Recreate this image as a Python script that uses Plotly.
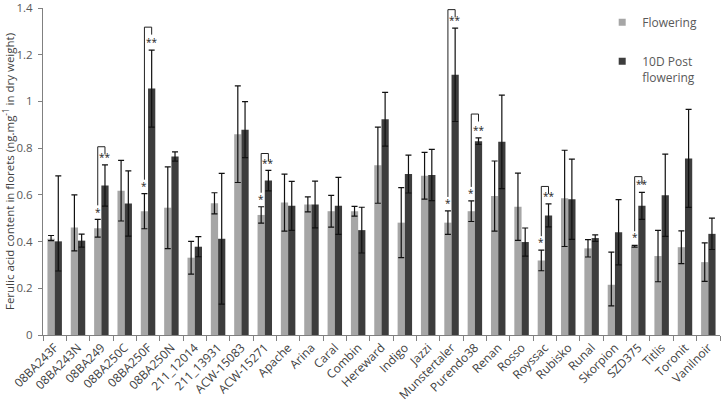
import plotly.graph_objects as go

cultivars = ["08BA243F", "08BA243N", "08BA249", "08BA250C", "08BA250F", "08BA250N",
             "211_12014", "211_13931", "ACW-15083", "ACW-15271", "Apache", "Arina",
             "Caral", "Combin", "Hereward", "Indigo", "Jazzi", "Munstertaler",
             "Purendo38", "Renan", "Rosso", "Royssac", "Rubisko", "Runal",
             "Skorpion", "SZD375", "Titlis", "Toronit", "Vanilnoir"]

flowering = [0.412, 0.460, 0.457, 0.618, 0.530, 0.545, 0.331, 0.564, 0.860, 0.514,
             0.567, 0.559, 0.530, 0.530, 0.727, 0.481, 0.682, 0.481, 0.530, 0.595,
             0.549, 0.319, 0.585, 0.371, 0.215, 0.380, 0.338, 0.376, 0.312]
flowering_err_up = [0.014, 0.14, 0.038, 0.13, 0.075, 0.175, 0.07, 0.045, 0.207, 0.035,
                    0.122, 0.032, 0.068, 0.021, 0.163, 0.15, 0.10, 0.05, 0.044, 0.15,
                    0.144, 0.044, 0.206, 0.037, 0.14, 0.004, 0.11, 0.07, 0.082]
flowering_err_down = [0.008, 0.10, 0.038, 0.13, 0.075, 0.175, 0.07, 0.045, 0.207, 0.035,
                      0.122, 0.032, 0.068, 0.021, 0.163, 0.15, 0.10, 0.05, 0.044, 0.15,
                      0.144, 0.044, 0.206, 0.037, 0.09, 0.004, 0.11, 0.07, 0.082]

post_flowering = [0.401, 0.404, 0.640, 0.563, 1.055, 0.764, 0.378, 0.412, 0.879, 0.661,
                  0.553, 0.559, 0.553, 0.449, 0.924, 0.689, 0.685, 1.114, 0.830, 0.827,
                  0.398, 0.512, 0.581, 0.415, 0.440, 0.553, 0.598, 0.756, 0.433]
post_err_up = [0.28, 0.028, 0.088, 0.14, 0.165, 0.02, 0.043, 0.28, 0.12, 0.044,
               0.105, 0.10, 0.122, 0.098, 0.115, 0.081, 0.11, 0.20, 0.014, 0.20,
               0.06, 0.049, 0.172, 0.014, 0.14, 0.058, 0.176, 0.21, 0.067]
post_err_down = [0.127, 0.028, 0.088, 0.14, 0.165, 0.02, 0.043, 0.28, 0.12, 0.044,
                 0.105, 0.10, 0.122, 0.098, 0.115, 0.081, 0.11, 0.20, 0.014, 0.20,
                 0.06, 0.049, 0.172, 0.014, 0.14, 0.058, 0.176, 0.21, 0.067]

# significance brackets (cultivar, bracket top value)
sig_cultivars = ["08BA249", "08BA250F", "ACW-15271", "Munstertaler", "Purendo38", "Royssac", "SZD375"]
sig_tops = [0.806, 1.318, 0.777, 1.393, 0.946, 0.636, 0.678]

LIGHT = "#a6a6a6"
DARK = "#3d3d3d"
TXT = "#595959"
FONT = "Open Sans"
BARGAP = 0.38

fig = go.Figure()
fig.add_trace(go.Bar(
    x=cultivars, y=flowering, name="Flowering", showlegend=False,
    marker=dict(color=LIGHT, line=dict(width=0)),
    error_y=dict(type="data", symmetric=False, array=flowering_err_up,
                 arrayminus=flowering_err_down, color="#111111", thickness=1.2, width=3),
))
fig.add_trace(go.Bar(
    x=cultivars, y=post_flowering, name="10D Post<br>flowering", showlegend=False,
    marker=dict(color=DARK, line=dict(width=0)),
    error_y=dict(type="data", symmetric=False, array=post_err_up,
                 arrayminus=post_err_down, color="#111111", thickness=1.2, width=3),
))
# legend entries (small square keys as in the original)
fig.add_trace(go.Scatter(x=[None], y=[None], mode="markers", name="Flowering",
                         legendgroup="a", marker=dict(symbol="square", size=7, color=LIGHT)))
fig.add_trace(go.Scatter(x=[None], y=[None], mode="markers", name="10D Post<br>flowering",
                         legendgroup="b", marker=dict(symbol="square", size=7, color=DARK)))

off = (1 - BARGAP) / 4
shapes = []
annotations = []
for c, top in zip(sig_cultivars, sig_tops):
    i = cultivars.index(c)
    xl, xr = i - off, i + off
    l_err_top = flowering[i] + flowering_err_up[i]
    d_err_top = post_flowering[i] + post_err_up[i]
    line = dict(color="#222222", width=1)
    shapes.append(dict(type="line", xref="x", yref="y", x0=xl, x1=xl,
                       y0=l_err_top + 0.06, y1=top, line=line))
    shapes.append(dict(type="line", xref="x", yref="y", x0=xl, x1=xr,
                       y0=top, y1=top, line=line))
    shapes.append(dict(type="line", xref="x", yref="y", x0=xr, x1=xr,
                       y0=top, y1=top - 0.032, line=line))
    annotations.append(dict(x=xl, y=l_err_top - 0.005, xref="x", yref="y", text="*",
                            showarrow=False, yanchor="bottom", xanchor="center",
                            font=dict(family=FONT, size=10, color="#222222")))
    annotations.append(dict(x=xr, y=d_err_top - 0.005, xref="x", yref="y", text="**",
                            showarrow=False, yanchor="bottom", xanchor="center",
                            font=dict(family=FONT, size=10, color="#222222")))

fig.update_layout(
    width=721, height=403,
    margin=dict(l=43, r=1, t=8, b=68),
    barmode="group", bargap=BARGAP, bargroupgap=0,
    plot_bgcolor="white", paper_bgcolor="white",
    font=dict(family=FONT, size=12, color=TXT),
    showlegend=True,
    legend=dict(x=0.826, y=1.0, xanchor="left", yanchor="top",
                bgcolor="rgba(0,0,0,0)", font=dict(family=FONT, size=12, color=TXT),
                tracegroupgap=20, valign="top"),
    shapes=shapes, annotations=annotations,
)
fig.update_xaxes(
    type="category", tickangle=-45, tickson="boundaries",
    ticks="outside", ticklen=5, tickcolor="#808080",
    showline=True, linecolor="#808080", linewidth=1,
    showgrid=False, automargin=False,
    tickfont=dict(family=FONT, size=12, color="#404040"),
)
fig.update_yaxes(
    range=[0, 1.4], dtick=0.2, tickformat="~g",
    ticks="outside", ticklen=4, tickcolor="#808080",
    showline=True, linecolor="#808080", linewidth=1,
    showgrid=False, zeroline=False, automargin=False,
    ticklabeloverflow="allow", ticklabelstandoff=3,
    tickfont=dict(family=FONT, size=11.5, color=TXT),
    title=dict(text="Ferulic acid content in florets (ng.mg<sup>-1</sup> in dry weight)",
               font=dict(family=FONT, size=11.5, color="#404040"), standoff=2),
)

fig.write_html("out.html")
